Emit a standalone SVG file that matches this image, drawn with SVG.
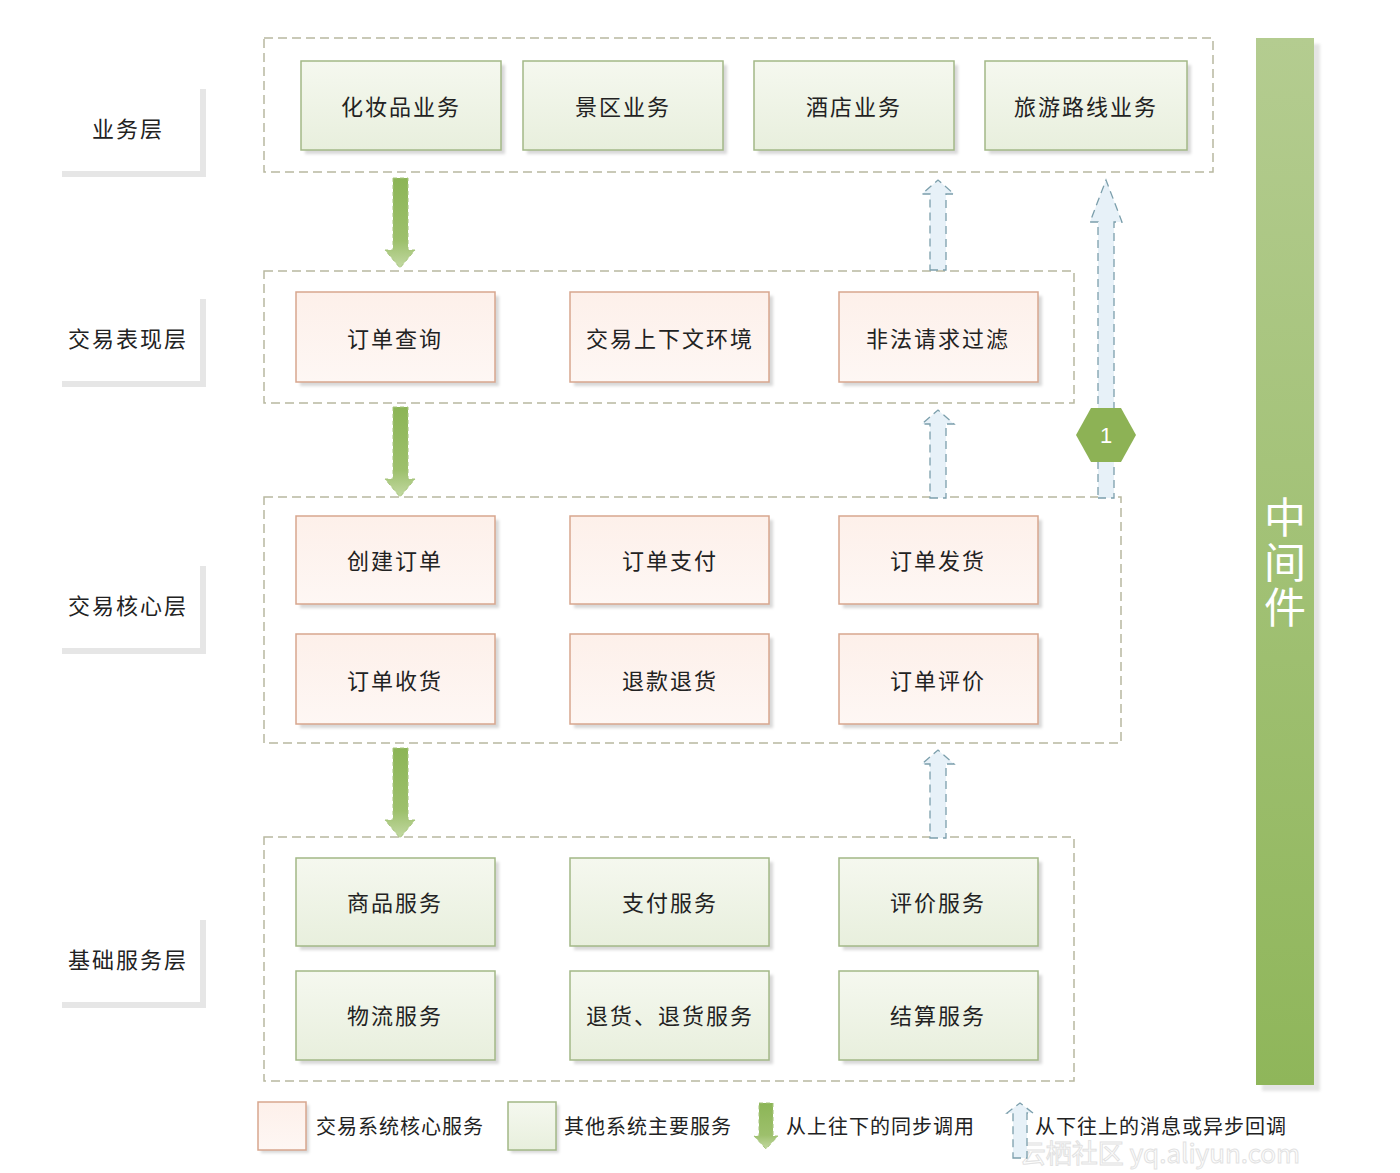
<svg xmlns="http://www.w3.org/2000/svg" width="1400" height="1173" viewBox="0 0 1400 1173">
<defs>
<linearGradient id="gGreen" x1="0" y1="0" x2="0" y2="1"><stop offset="0" stop-color="#f5f8ef"/><stop offset="1" stop-color="#e8efdd"/></linearGradient>
<linearGradient id="gPink" x1="0" y1="0" x2="0" y2="1"><stop offset="0" stop-color="#fdf0ea"/><stop offset="1" stop-color="#fef7f4"/></linearGradient>
<linearGradient id="gArrow" x1="0" y1="0" x2="0" y2="1"><stop offset="0" stop-color="#8cb556"/><stop offset="0.7" stop-color="#9dc06c"/><stop offset="1" stop-color="#c3d9a3"/></linearGradient>
<linearGradient id="gBar" x1="0" y1="0" x2="0" y2="1"><stop offset="0" stop-color="#b4cc90"/><stop offset="1" stop-color="#8fb65a"/></linearGradient>
<filter id="blur" x="-20%" y="-20%" width="140%" height="140%"><feGaussianBlur stdDeviation="1.5"/></filter>
</defs>
<style>
.grp{fill:none;stroke:#b8b8a0;stroke-width:1.5;stroke-dasharray:9 5}
.sh{fill:#d8d8d8;filter:url(#blur)}
.gn{fill:url(#gGreen);stroke:#a3b887;stroke-width:1.5}
.pk{fill:url(#gPink);stroke:#d7a68e;stroke-width:1.5}
.t{font-family:"Noto Sans CJK SC","Noto Sans CJK JP",sans-serif;font-size:22px;fill:#222;text-anchor:middle;dominant-baseline:central;letter-spacing:2px}
.lt{font-family:"Noto Sans CJK SC","Noto Sans CJK JP",sans-serif;font-size:20px;fill:#222;dominant-baseline:central;letter-spacing:1px}
.down{fill:url(#gArrow);stroke:#a6c47c;stroke-width:1;stroke-dasharray:4 3}
.up{fill:#e7f1f8;stroke:#7c9fac;stroke-width:1.3;stroke-dasharray:8 5}
.lab{fill:#fff}
.labsh{fill:#e6e6e6}
</style>
<rect width="1400" height="1173" fill="#ffffff"/>

<!-- watermark -->
<text x="1160" y="1163" font-family="Noto Sans CJK SC,sans-serif" font-size="26" fill="none" stroke="#e2e2e2" stroke-width="1" text-anchor="middle">云栖社区 yq.aliyun.com</text>

<!-- left layer labels -->
<g id="label-business"><rect class="labsh" x="62" y="89" width="144" height="88"/><rect class="lab" x="58" y="85" width="142" height="86"/><text class="t" x="128" y="127">业务层</text></g>
<g id="label-presentation"><rect class="labsh" x="62" y="299" width="144" height="88"/><rect class="lab" x="58" y="295" width="142" height="86"/><text class="t" x="128" y="337">交易表现层</text></g>
<g id="label-core"><rect class="labsh" x="62" y="566" width="144" height="88"/><rect class="lab" x="58" y="562" width="142" height="86"/><text class="t" x="128" y="604">交易核心层</text></g>
<g id="label-base"><rect class="labsh" x="62" y="920" width="144" height="88"/><rect class="lab" x="58" y="916" width="142" height="86"/><text class="t" x="128" y="958">基础服务层</text></g>

<!-- group frames -->
<g id="groups">
<rect class="grp" x="264" y="38" width="949" height="134"/>
<rect class="grp" x="264" y="271" width="810" height="132"/>
<rect class="grp" x="264" y="497" width="857" height="246"/>
<rect class="grp" x="264" y="837" width="810" height="244"/>
</g>

<!-- middleware -->
<g id="middleware">
<rect x="1262" y="44" width="58" height="1047" fill="#e4e4e4" filter="url(#blur)"/>
<rect x="1256" y="38" width="58" height="1047" fill="url(#gBar)"/>
<text x="1285" y="496" font-family="Noto Sans CJK SC,sans-serif" font-size="42" fill="#fff" style="writing-mode:vertical-rl" letter-spacing="3">中间件</text>
</g>

<!-- row 1 -->
<g id="n-cosmetics"><rect class="sh" x="305" y="65" width="200" height="89"/><rect class="gn" x="301" y="61" width="200" height="89"/><text class="t" x="401" y="105">化妆品业务</text></g>
<g id="n-scenic"><rect class="sh" x="527" y="65" width="200" height="89"/><rect class="gn" x="523" y="61" width="200" height="89"/><text class="t" x="623" y="105">景区业务</text></g>
<g id="n-hotel"><rect class="sh" x="758" y="65" width="200" height="89"/><rect class="gn" x="754" y="61" width="200" height="89"/><text class="t" x="854" y="105">酒店业务</text></g>
<g id="n-route"><rect class="sh" x="989" y="65" width="202" height="89"/><rect class="gn" x="985" y="61" width="202" height="89"/><text class="t" x="1086" y="105">旅游路线业务</text></g>

<!-- row 2 -->
<g id="n-query"><rect class="sh" x="300" y="296" width="199" height="90"/><rect class="pk" x="296" y="292" width="199" height="90"/><text class="t" x="395" y="337">订单查询</text></g>
<g id="n-context"><rect class="sh" x="574" y="296" width="199" height="90"/><rect class="pk" x="570" y="292" width="199" height="90"/><text class="t" x="670" y="337">交易上下文环境</text></g>
<g id="n-filter"><rect class="sh" x="843" y="296" width="199" height="90"/><rect class="pk" x="839" y="292" width="199" height="90"/><text class="t" x="938" y="337">非法请求过滤</text></g>

<!-- row 3 -->
<g id="n-create"><rect class="sh" x="300" y="520" width="199" height="88"/><rect class="pk" x="296" y="516" width="199" height="88"/><text class="t" x="395" y="559">创建订单</text></g>
<g id="n-pay"><rect class="sh" x="574" y="520" width="199" height="88"/><rect class="pk" x="570" y="516" width="199" height="88"/><text class="t" x="670" y="559">订单支付</text></g>
<g id="n-ship"><rect class="sh" x="843" y="520" width="199" height="88"/><rect class="pk" x="839" y="516" width="199" height="88"/><text class="t" x="938" y="559">订单发货</text></g>

<!-- row 4 -->
<g id="n-receive"><rect class="sh" x="300" y="638" width="199" height="90"/><rect class="pk" x="296" y="634" width="199" height="90"/><text class="t" x="395" y="679">订单收货</text></g>
<g id="n-refund"><rect class="sh" x="574" y="638" width="199" height="90"/><rect class="pk" x="570" y="634" width="199" height="90"/><text class="t" x="670" y="679">退款退货</text></g>
<g id="n-review"><rect class="sh" x="843" y="638" width="199" height="90"/><rect class="pk" x="839" y="634" width="199" height="90"/><text class="t" x="938" y="679">订单评价</text></g>

<!-- row 5 -->
<g id="n-goods"><rect class="sh" x="300" y="862" width="199" height="88"/><rect class="gn" x="296" y="858" width="199" height="88"/><text class="t" x="395" y="901">商品服务</text></g>
<g id="n-paysvc"><rect class="sh" x="574" y="862" width="199" height="88"/><rect class="gn" x="570" y="858" width="199" height="88"/><text class="t" x="670" y="901">支付服务</text></g>
<g id="n-reviewsvc"><rect class="sh" x="843" y="862" width="199" height="88"/><rect class="gn" x="839" y="858" width="199" height="88"/><text class="t" x="938" y="901">评价服务</text></g>

<!-- row 6 -->
<g id="n-logistics"><rect class="sh" x="300" y="975" width="199" height="89"/><rect class="gn" x="296" y="971" width="199" height="89"/><text class="t" x="395" y="1014">物流服务</text></g>
<g id="n-returns"><rect class="sh" x="574" y="975" width="199" height="89"/><rect class="gn" x="570" y="971" width="199" height="89"/><text class="t" x="670" y="1014">退货、退货服务</text></g>
<g id="n-settle"><rect class="sh" x="843" y="975" width="199" height="89"/><rect class="gn" x="839" y="971" width="199" height="89"/><text class="t" x="938" y="1014">结算服务</text></g>

<!-- connectors -->
<g id="connectors">
<polygon class="down" points="393,178 408,178 408,250 415,250 400,268 385,250 393,250"/>
<polygon class="down" points="393,407 408,407 408,479 415,479 400,497 385,479 393,479"/>
<polygon class="down" points="393,748 408,748 408,820 415,820 400,838 385,820 393,820"/>
<polygon class="up" points="930,270 946,270 946,194 954,194 938,180 922,194 930,194"/>
<polygon class="up" points="930,498 946,498 946,424 954,424 938,410 922,424 930,424"/>
<polygon class="up" points="930,838 946,838 946,764 954,764 938,750 922,764 930,764"/>
<polygon class="up" points="1098,498 1114,498 1114,222 1122,222 1106,180 1090,222 1098,222"/>
<g id="badge-1">
<polygon points="1076,435 1091,408 1121,408 1136,435 1121,462 1091,462" fill="#8db255"/>
<text x="1106" y="435" font-family="Liberation Sans,sans-serif" font-size="22" fill="#fff" text-anchor="middle" dominant-baseline="central">1</text>
</g>
</g>

<!-- legend -->
<g id="legend">
<rect class="sh" x="261" y="1105" width="48" height="48"/>
<rect class="pk" x="258" y="1102" width="48" height="48"/>
<text class="lt" x="316" y="1125">交易系统核心服务</text>
<rect class="sh" x="511" y="1105" width="48" height="48"/>
<rect class="gn" x="508" y="1102" width="48" height="48"/>
<text class="lt" x="564" y="1125">其他系统主要服务</text>
<polygon class="down" points="759,1103 773,1103 773,1136 778,1136 766,1149 754,1136 759,1136"/>
<text class="lt" x="786" y="1125">从上往下的同步调用</text>
<polygon class="up" points="1013,1158 1027,1158 1027,1113 1033,1113 1020,1103 1007,1113 1013,1113"/>
<text class="lt" x="1035" y="1125">从下往上的消息或异步回调</text>
</g>
</svg>
